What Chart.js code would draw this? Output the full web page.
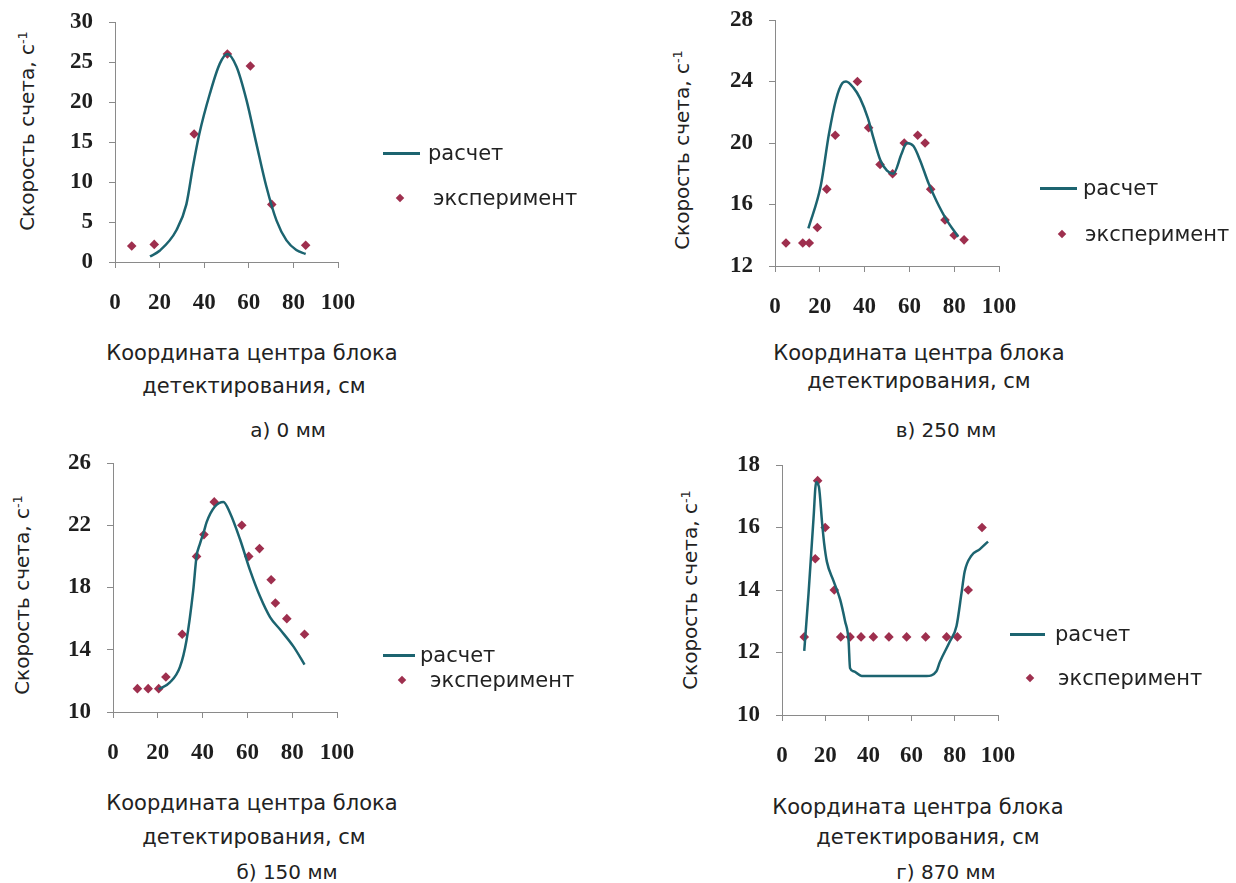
<!DOCTYPE html>
<html>
<head>
<meta charset="utf-8">
<script src="https://cdn.jsdelivr.net/npm/chart.js@4"></script>
<style>
  body { margin: 0; background: #fff; }
  #page { position: relative; width: 1236px; height: 883px; overflow: hidden; font-family: "DejaVu Sans", Verdana, sans-serif; color: #222; }
  canvas { position: absolute; }
  .t { position: absolute; white-space: nowrap; transform: translate(-50%, -50%); font-size: 21px; }
  .yt { position: absolute; white-space: nowrap; transform: translate(-50%, -50%) rotate(-90deg); font-size: 20px; }
  .yt sup { font-size: 13px; }
  .lg { position: absolute; white-space: nowrap; font-size: 21px; transform: translateY(-50%); }
  .ln { position: absolute; height: 3px; background: #1c6470; }
  .dm { position: absolute; width: 6px; height: 6px; background: #9e2f4e; transform: translate(-50%, -50%) rotate(45deg); }
</style>
</head>
<body>
<div id="page"></div>
<script>
// а) 0 мм
const xCalcA = [15.7, 20, 27.6, 32, 35, 37.8, 42.5, 47, 50.4, 54.5, 59, 63.4, 67.9, 72.4, 76.9, 81.3, 85.5];
const yCalcA = [0.7, 1.4, 4.0, 7.2, 12.0, 16.0, 21.0, 24.8, 26.0, 24.4, 20.2, 14.8, 9.4, 5.2, 2.7, 1.5, 1.0];
const xExpA = [7.5, 17.6, 35.5, 50.4, 60.7, 70.3, 85.5];
const yExpA = [2.0, 2.2, 16.0, 26.0, 24.5, 7.2, 2.1];

// б) 150 мм
const xCalcB = [20.4, 25.4, 29.9, 32.8, 35.8, 37.3, 38.8, 40.6, 41.8, 45.5, 49.3, 52.2, 56.7, 61.2, 65.7, 70.1, 74.6, 80.6, 85.5];
const yCalcB = [11.45, 11.9, 12.9, 14.6, 17.8, 20.0, 20.8, 21.6, 22.2, 23.2, 23.5, 22.8, 21.1, 19.1, 17.4, 16.1, 15.3, 14.2, 13.05];
const xExpB = [10.9, 15.7, 20.4, 23.6, 30.9, 37.3, 40.6, 45.2, 57.5, 60.6, 65.4, 70.6, 72.5, 77.6, 85.5];
const yExpB = [11.5, 11.5, 11.5, 12.25, 15.0, 20.0, 21.4, 23.5, 22.0, 20.0, 20.5, 18.5, 17.0, 16.0, 15.0];

// в) 250 мм
const xCalcV = [14.9, 20.4, 24.1, 27.2, 30.1, 31.7, 35, 38, 41.5, 44, 47, 50, 52.8, 56.5, 58.8, 61.8, 64.7, 68.5, 72.2, 76.6, 81.8];
const yCalcV = [14.45, 17.2, 20.6, 22.8, 23.9, 24.0, 23.6, 22.9, 21.6, 20.3, 18.9, 18.2, 18.0, 19.3, 20.0, 19.8, 18.9, 17.4, 16.2, 15.0, 13.9];
const xExpV = [4.9, 12.4, 15.3, 18.9, 23.1, 26.9, 36.8, 41.8, 46.9, 52.5, 57.7, 63.7, 67.0, 69.5, 75.9, 80.0, 84.4];
const yExpV = [13.5, 13.5, 13.5, 14.5, 17.0, 20.5, 24.0, 21.0, 18.6, 18.0, 20.0, 20.5, 20.0, 17.0, 15.0, 14.0, 13.7];

// г) 870 мм
const xCalcG = [10.3, 12.3, 14.6, 15.8, 17.1, 18.5, 19.5, 20.8, 23.8, 26.9, 29.2, 30.8, 31.5, 33.1, 36.9, 66.9, 71.5, 73.1, 77.7, 80.8, 83.1, 84.6, 87.7, 91.5, 95.4];
const yCalcG = [12.05, 13.9, 16.3, 17.45, 17.3, 16.2, 15.5, 14.9, 14.3, 13.7, 13.0, 12.4, 11.5, 11.4, 11.25, 11.25, 11.4, 11.7, 12.35, 12.85, 13.9, 14.6, 15.1, 15.3, 15.55];
const xExpG = [10.3, 15.4, 16.5, 20.0, 24.2, 27.2, 31.5, 36.6, 42.3, 49.5, 57.7, 66.5, 76.2, 81.2, 86.2, 92.6];
const yExpG = [12.5, 15.0, 17.5, 16.0, 14.0, 12.5, 12.5, 12.5, 12.5, 12.5, 12.5, 12.5, 12.5, 12.5, 14.0, 16.0];

// axes
const xTicks = [0, 20, 40, 60, 80, 100];
const yRangeA = [0, 30, 5];
const yRangeB = [10, 26, 4];
const yRangeV = [12, 28, 4];
const yRangeG = [10, 18, 2];

const yTitle = 'Скорость счета, с';
const xTitle1 = 'Координата центра блока';
const xTitle2 = 'детектирования, см';
const seriesNames = ['расчет', 'эксперимент'];
const captions = ['а) 0 мм', 'б) 150 мм', 'в) 250 мм', 'г) 870 мм'];

const lineColor = '#1c6470';
const dotColor = '#9e2f4e';
const axisColor = '#8a8a8a';

const page = document.getElementById('page');

function pts(xs, ys) {
    return xs.map((x, i) => ({ x: x, y: ys[i] }));
}

function addText(cls, html, x, y) {
    const d = document.createElement('div');
    d.className = cls;
    d.innerHTML = html;
    d.style.left = x + 'px';
    d.style.top = y + 'px';
    page.appendChild(d);
    return d;
}

// one panel: plot box L..R, T..B in page pixels
// padding is bigger than the tick label overhang, so the plot box lands exactly
function panel(p) {
    const yw = 75, pt = 40, pr = 60, xh = 60;
    const cv = document.createElement('canvas');
    const w = (p.R - p.L) + yw + pr;
    const h = (p.B - p.T) + pt + xh;
    cv.width = w; cv.height = h;
    cv.style.left = (p.L - yw) + 'px';
    cv.style.top = (p.T - pt) + 'px';
    page.appendChild(cv);

    const tickFont = { family: '"Liberation Serif", "Times New Roman", serif', size: 23, weight: 'bold' };
    new Chart(cv, {
        type: 'scatter',
        data: {
            datasets: [{
                label: seriesNames[0],
                data: pts(p.xc, p.yc),
                showLine: true,
                cubicInterpolationMode: 'monotone',
                borderColor: lineColor,
                borderWidth: 2.5,
                pointRadius: 0
            }, {
                label: seriesNames[1],
                data: pts(p.xe, p.ye),
                pointStyle: 'rectRot',
                pointRadius: 4.8,
                backgroundColor: dotColor,
                borderWidth: 0
            }]
        },
        options: {
            responsive: false,
            animation: false,
            layout: { padding: { top: pt, right: pr, left: 0, bottom: 0 } },
            plugins: { legend: { display: false }, tooltip: { enabled: false } },
            scales: {
                x: {
                    type: 'linear',
                    min: xTicks[0],
                    max: xTicks[xTicks.length - 1],
                    afterBuildTicks: s => { s.ticks = xTicks.map(v => ({ value: v })); },
                    afterFit: s => { s.height = xh; },
                    ticks: { font: tickFont, color: '#1e1e1e', padding: 21, maxRotation: 0 },
                    grid: { drawOnChartArea: false, tickLength: 6, color: axisColor },
                    border: { color: axisColor }
                },
                y: {
                    min: p.yr[0],
                    max: p.yr[1],
                    ticks: { stepSize: p.yr[2], font: tickFont, color: '#1e1e1e', padding: 16 },
                    afterFit: s => { s.width = yw; },
                    grid: { drawOnChartArea: false, tickLength: 6, color: axisColor },
                    border: { color: axisColor }
                }
            }
        }
    });

    addText('yt', yTitle + '<sup>-1</sup>', p.yt[0], p.yt[1]);
    addText('t', xTitle1, p.t1[0], p.t1[1]);
    addText('t', xTitle2, p.t2[0], p.t2[1]);
    addText('t', p.cap, p.c[0], p.c[1]).style.fontSize = '20px';

    const ln = document.createElement('div');
    ln.className = 'ln';
    ln.style.left = p.lg[0] + 'px';
    ln.style.width = (p.lg[1] - p.lg[0]) + 'px';
    ln.style.top = (p.lg[2] - 1.5) + 'px';
    page.appendChild(ln);
    addText('lg', seriesNames[0], p.lg[3], p.lg[2]);
    addText('dm', '', p.lg[4], p.lg[5]);
    addText('lg', seriesNames[1], p.lg[6], p.lg[5]);
}

panel({ L: 115, R: 338, T: 22, B: 262, yr: yRangeA, xc: xCalcA, yc: yCalcA, xe: xExpA, ye: yExpA,
        yt: [27, 131], t1: [252, 353], t2: [254, 386], c: [288, 430], cap: captions[0],
        lg: [383, 420, 153, 428, 400, 198, 433] });
panel({ L: 113, R: 337, T: 463, B: 712, yr: yRangeB, xc: xCalcB, yc: yCalcB, xe: xExpB, ye: yExpB,
        yt: [22, 595], t1: [252, 803], t2: [254, 837], c: [287, 872], cap: captions[1],
        lg: [383, 415, 655, 420, 402, 680, 430] });
panel({ L: 775, R: 999, T: 20, B: 266, yr: yRangeV, xc: xCalcV, yc: yCalcV, xe: xExpV, ye: yExpV,
        yt: [682, 150], t1: [919, 353], t2: [919, 381], c: [946, 430], cap: captions[2],
        lg: [1040, 1077, 188, 1083, 1062, 234, 1085] });
panel({ L: 782, R: 998, T: 465, B: 715, yr: yRangeG, xc: xCalcG, yc: yCalcG, xe: xExpG, ye: yExpG,
        yt: [690, 590], t1: [918, 807], t2: [928, 837], c: [946, 872], cap: captions[3],
        lg: [1010, 1045, 634, 1055, 1030, 678, 1058] });
</script>
</body>
</html>
